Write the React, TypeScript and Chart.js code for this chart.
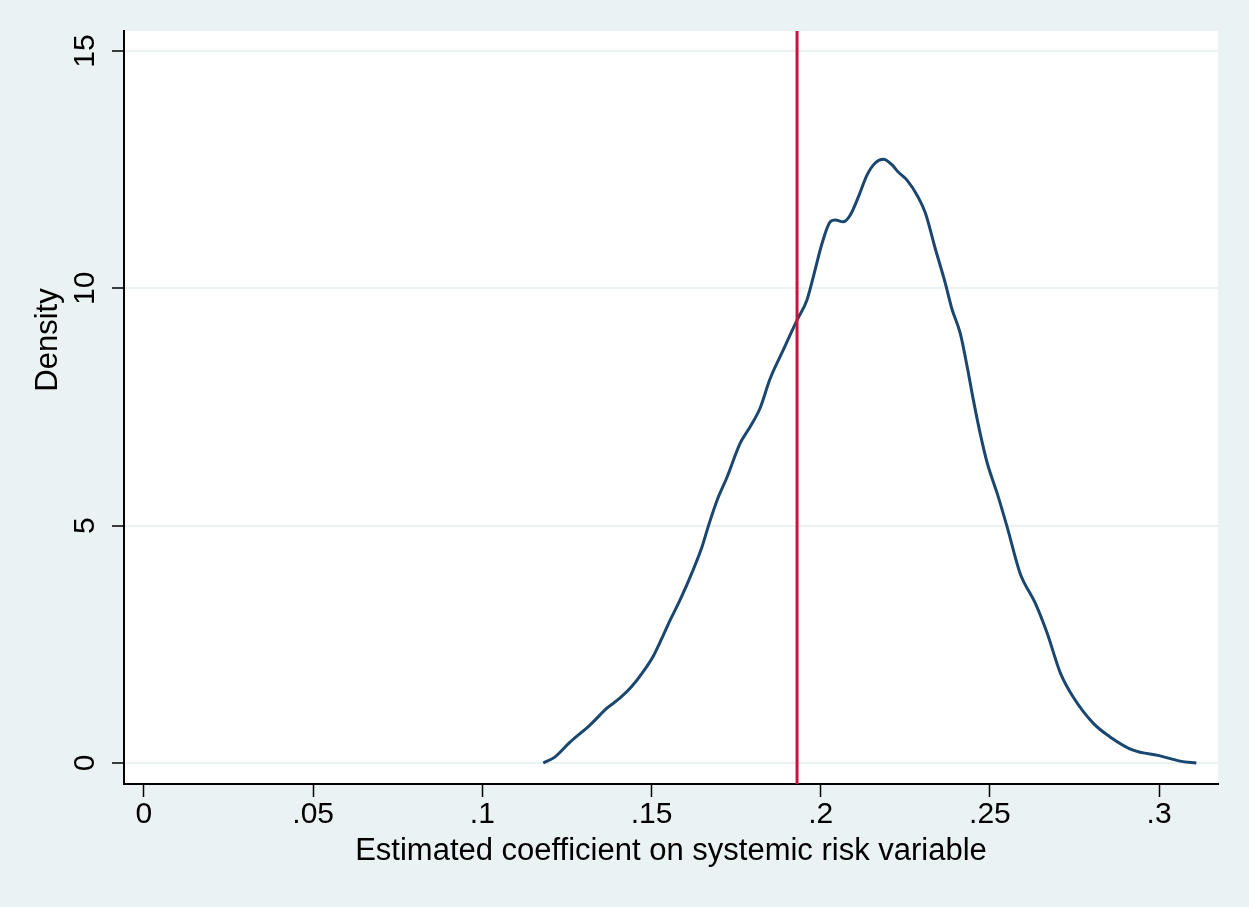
import React, { useEffect, useRef } from "react";
import { Chart, registerables } from "chart.js";

Chart.register(...registerables);

// ---- data ----
const densityX = [
  0.118, 0.1215, 0.1259, 0.1318, 0.1369, 0.1407, 0.144, 0.1475, 0.1505, 0.153,
  0.1555, 0.1584, 0.1623, 0.1649, 0.1667, 0.1694, 0.1723, 0.1762, 0.1791, 0.1821,
  0.185, 0.1889, 0.193, 0.1959, 0.1978, 0.2004, 0.2028, 0.2043, 0.2066, 0.2087,
  0.2111, 0.2137, 0.2161, 0.2185, 0.2211, 0.2229, 0.2255, 0.2288, 0.2309, 0.2338,
  0.2368, 0.2388, 0.2412, 0.2433, 0.2451, 0.2471, 0.2492, 0.2521, 0.2551, 0.2589,
  0.2634, 0.2669, 0.2708, 0.2746, 0.2805, 0.2855, 0.2923, 0.3003, 0.3062, 0.311,
];
const densityY = [
  0.0, 0.13, 0.44, 0.8, 1.16, 1.37, 1.6, 1.92, 2.25, 2.62,
  3.01, 3.43, 4.07, 4.55, 4.97, 5.54, 6.02, 6.74, 7.08, 7.48,
  8.09, 8.7, 9.33, 9.75, 10.24, 10.95, 11.4, 11.44, 11.4, 11.54,
  11.92, 12.39, 12.64, 12.72, 12.6, 12.45, 12.28, 11.92, 11.59, 10.85,
  10.11, 9.56, 9.06, 8.34, 7.65, 6.95, 6.32, 5.69, 4.97, 4.0,
  3.37, 2.74, 1.9, 1.39, 0.84, 0.55, 0.27, 0.15, 0.04, 0.0,
];
const refLineX = 0.193;
const xTickValues = [0, 0.05, 0.1, 0.15, 0.2, 0.25, 0.3];
const xTickLabels = ["0", ".05", ".1", ".15", ".2", ".25", ".3"];
const yTickValues = [0, 5, 10, 15];
const yTickLabels = ["0", "5", "10", "15"];
const xTitle = "Estimated coefficient on systemic risk variable";
const yTitle = "Density";
const xMin = -0.0059;
const xMax = 0.3174;
const yMin = -0.442;
const yMax = 15.421;

// ---- styles ----
const FONT = "'Liberation Sans', Arial, Helvetica, sans-serif";
const BG = "#eaf2f3";
const NAVY = "#1a476f";
const RED = "#c8143c";
const GRID = "#eaf2f3";

const labelFor = (vals: number[], labels: string[], v: number) => {
  const i = vals.findIndex((t) => Math.abs(t - v) < 1e-9);
  return i >= 0 ? labels[i] : "";
};

const backgroundPlugin = {
  id: "stataBackground",
  beforeDraw(chart: any) {
    const { ctx, chartArea, width, height } = chart;
    ctx.save();
    ctx.fillStyle = BG;
    ctx.fillRect(0, 0, width, height);
    ctx.fillStyle = "#ffffff";
    ctx.fillRect(
      chartArea.left,
      chartArea.top,
      chartArea.right - chartArea.left,
      chartArea.bottom - chartArea.top
    );
    ctx.restore();
  },
};

// y-axis title sits above the plot's vertical centre in the reference
const yTitlePlugin = {
  id: "yAxisTitle",
  afterDraw(chart: any) {
    const { ctx, chartArea } = chart;
    ctx.save();
    ctx.fillStyle = "#000";
    ctx.textAlign = "center";
    ctx.textBaseline = "middle";
    ctx.translate(chartArea.left - 76, chartArea.top + 309);
    ctx.rotate(-Math.PI / 2);
    ctx.font = `31px ${FONT}`;
    ctx.fillText(yTitle, 0, 0);
    ctx.restore();
  },
};

export default function App() {
  const ref = useRef<HTMLCanvasElement>(null);

  useEffect(() => {
    document.body.style.margin = "0";
    document.body.style.background = BG;
    Chart.defaults.font.family = FONT;
    const canvas = ref.current!;
    const chart = new Chart(canvas, {
      type: "line",
      data: {
        datasets: [
          {
            label: "xline",
            data: [
              { x: refLineX, y: yMin },
              { x: refLineX, y: yMax },
            ],
            borderColor: RED,
            borderWidth: 3,
            pointRadius: 0,
            order: 0,
          },
          {
            label: "density",
            data: densityX.map((x, i) => ({ x, y: densityY[i] })),
            borderColor: NAVY,
            borderWidth: 3,
            pointRadius: 0,
            cubicInterpolationMode: "monotone",
            order: 1,
          },
        ],
      },
      options: {
        responsive: false,
        animation: false,
        layout: { padding: { top: 31, right: 31, left: 0, bottom: 0 } },
        plugins: {
          legend: { display: false },
          tooltip: { enabled: false },
        },
        scales: {
          x: {
            type: "linear",
            min: xMin,
            max: xMax,
            afterBuildTicks: (s: any) => {
              s.ticks = xTickValues.map((v) => ({ value: v }));
            },
            afterFit: (s: any) => {
              s.height = 123;
            },
            title: {
              display: true,
              text: xTitle,
              color: "#000",
              font: { family: FONT, size: 31 },
              padding: { top: 0, bottom: 37 },
            },
            ticks: {
              autoSkip: false,
              minRotation: 0,
              maxRotation: 0,
              padding: 0,
              color: "#000",
              font: { family: FONT, size: 30 },
              callback: (v: any) => labelFor(xTickValues, xTickLabels, Number(v)),
            },
            grid: {
              drawOnChartArea: false,
              tickLength: 13,
              tickColor: "#000",
              tickWidth: 1.5,
            },
            border: { display: true, color: "#000", width: 2 },
          },
          y: {
            type: "linear",
            min: yMin,
            max: yMax,
            afterBuildTicks: (s: any) => {
              s.ticks = yTickValues.map((v) => ({ value: v }));
            },
            afterFit: (s: any) => {
              s.width = 124;
            },
            ticks: {
              autoSkip: false,
              minRotation: 90,
              maxRotation: 90,
              crossAlign: "center",
              padding: 10,
              color: "#000",
              font: { family: FONT, size: 30 },
              callback: (v: any) => labelFor(yTickValues, yTickLabels, Number(v)),
            },
            grid: {
              color: GRID,
              lineWidth: 2,
              tickLength: 12,
              tickColor: "#000",
              tickWidth: 1.5,
            },
            border: { display: true, color: "#000", width: 2 },
          },
        },
      },
      plugins: [backgroundPlugin, yTitlePlugin],
    } as any);
    return () => chart.destroy();
  }, []);

  return (
    <canvas
      ref={ref}
      width={1249}
      height={907}
      style={{ display: "block", width: 1249, height: 907 }}
    />
  );
}
